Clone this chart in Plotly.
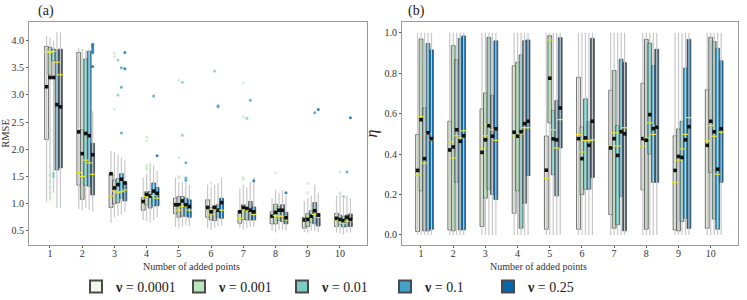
import plotly.graph_objects as go

# ---------------- data ----------------
categories = [1, 2, 3, 4, 5, 6, 7, 8, 9, 10]
nu_labels = ["0.0001", "0.001", "0.01", "0.1", "0.25"]
colors = ["#f0f9e8", "#bae4bc", "#7bccc4", "#43a2ca", "#0868ac"]

# RMSE panel (a): one list per nu, values per category
rmse_q3_nu1 = [3.89, 3.78, 1.55, 1.11, 1.10, 1.07, 0.87, 0.85, 0.75, 0.82]
rmse_q3_nu2 = [3.87, 2.36, 1.43, 1.22, 1.13, 0.93, 0.98, 0.99, 0.82, 0.79]
rmse_q3_nu3 = [3.84, 3.66, 1.46, 1.22, 1.13, 0.96, 0.93, 0.95, 0.87, 0.76]
rmse_q3_nu4 = [3.82, 3.80, 1.55, 1.38, 1.10, 0.98, 1.04, 0.98, 1.02, 0.79]
rmse_q3_nu5 = [3.84, 2.11, 1.40, 1.30, 1.07, 1.10, 0.94, 0.84, 0.82, 0.81]

rmse_q1_nu1 = [2.18, 1.34, 0.93, 0.88, 0.82, 0.75, 0.64, 0.63, 0.55, 0.58]
rmse_q1_nu2 = [3.37, 1.08, 1.00, 0.98, 0.75, 0.70, 0.71, 0.63, 0.58, 0.61]
rmse_q1_nu3 = [3.63, 1.34, 1.02, 0.92, 0.77, 0.69, 0.70, 0.69, 0.65, 0.57]
rmse_q1_nu4 = [1.62, 1.32, 1.10, 0.96, 0.77, 0.75, 0.70, 0.67, 0.63, 0.58]
rmse_q1_nu5 = [1.66, 1.16, 1.05, 0.96, 0.75, 0.73, 0.70, 0.63, 0.59, 0.58]

rmse_med_nu1 = [3.80, 1.57, 1.14, 1.02, 0.97, 0.90, 0.73, 0.77, 0.70, 0.70]
rmse_med_nu2 = [3.78, 1.50, 1.23, 1.13, 0.88, 0.81, 0.90, 0.78, 0.70, 0.70]
rmse_med_nu3 = [3.80, 1.80, 1.20, 1.12, 0.95, 0.90, 0.88, 0.77, 0.77, 0.64]
rmse_med_nu4 = [3.60, 1.75, 1.22, 1.15, 0.95, 0.88, 0.88, 0.77, 0.80, 0.68]
rmse_med_nu5 = [3.37, 1.54, 1.25, 1.10, 0.88, 0.88, 0.80, 0.70, 0.75, 0.68]

rmse_mean_nu1 = [3.15, 2.32, 1.55, 1.04, 0.98, 0.93, 0.85, 0.77, 0.70, 0.73]
rmse_mean_nu2 = [3.32, 1.92, 1.29, 1.17, 0.98, 0.85, 0.93, 0.84, 0.71, 0.71]
rmse_mean_nu3 = [3.32, 2.29, 1.35, 1.14, 1.05, 0.93, 0.91, 0.88, 0.77, 0.69]
rmse_mean_nu4 = [2.82, 2.25, 1.45, 1.23, 0.98, 0.88, 0.88, 0.88, 0.87, 0.75]
rmse_mean_nu5 = [2.78, 1.90, 1.38, 1.19, 0.95, 1.02, 0.85, 0.74, 0.79, 0.71]

rmse_lo_nu1 = [1.03, 0.90, 0.65, 0.70, 0.57, 0.55, 0.55, 0.50, 0.48, 0.47]
rmse_lo_nu2 = [1.08, 0.88, 0.75, 0.68, 0.55, 0.52, 0.52, 0.47, 0.47, 0.45]
rmse_lo_nu3 = [1.20, 0.92, 0.78, 0.65, 0.58, 0.55, 0.55, 0.52, 0.50, 0.43]
rmse_lo_nu4 = [0.92, 0.88, 0.80, 0.70, 0.60, 0.58, 0.57, 0.52, 0.50, 0.47]
rmse_lo_nu5 = [0.92, 0.85, 0.85, 0.75, 0.58, 0.60, 0.58, 0.50, 0.48, 0.47]

rmse_hi_nu1 = [4.08, 3.86, 1.97, 1.48, 1.48, 1.35, 1.28, 1.10, 1.05, 1.15]
rmse_hi_nu2 = [4.05, 3.85, 1.95, 1.55, 1.40, 1.30, 1.35, 1.25, 1.10, 1.20]
rmse_hi_nu3 = [4.00, 3.82, 1.90, 1.75, 1.40, 1.35, 1.30, 1.20, 1.15, 1.10]
rmse_hi_nu4 = [4.15, 3.85, 1.85, 1.70, 1.45, 1.38, 1.40, 1.25, 1.35, 1.15]
rmse_hi_nu5 = [4.15, 2.70, 1.80, 1.60, 1.35, 1.48, 1.48, 1.15, 1.20, 1.10]

# outliers: (category, value) pairs per nu
rmse_out_cat_nu1 = [10]
rmse_out_val_nu1 = [1.28]
rmse_out_cat_nu2 = [1, 1, 1, 1, 1, 1, 1, 1, 1, 3, 3, 3, 4, 4, 4, 4, 4, 5, 5, 5, 5, 6, 7, 7, 7, 7, 8, 9, 9, 10, 10]
rmse_out_val_nu2 = [2.20, 2.35, 1.68, 1.55, 1.52, 1.40, 1.30, 1.20, 1.08, 3.77, 3.70, 2.73,
                    2.15, 2.22, 1.70, 1.66, 1.63, 3.27, 1.50, 1.47, 1.85, 1.38,
                    3.22, 1.48, 1.45, 2.60, 1.57, 1.37, 1.20, 1.58, 1.20]
rmse_out_cat_nu3 = [1, 1, 3, 3, 5, 5, 6, 7, 10]
rmse_out_val_nu3 = [1.55, 1.50, 3.64, 3.00, 3.23, 2.26, 3.44, 2.57, 1.13]
rmse_out_cat_nu4 = [3, 3, 3, 4, 5, 5, 5, 6, 6, 7, 9, 10]
rmse_out_val_nu4 = [3.50, 3.14, 2.30, 2.98, 1.75, 1.47, 1.43, 2.80, 2.78, 2.90, 2.67, 1.58]
rmse_out_cat_nu5 = [2, 2, 2, 2, 2, 2, 3, 3, 4, 7, 8, 9, 10]
rmse_out_val_nu5 = [3.93, 3.90, 3.86, 3.82, 3.78, 3.52, 3.78, 3.48, 1.88, 1.42, 1.20, 2.73, 2.58]

# eta panel (b)
eta_q3_nu1 = [0.497, 0.562, 0.623, 0.836, 0.489, 0.780, 0.715, 0.750, 0.490, 0.718]
eta_q3_nu2 = [0.969, 0.936, 0.702, 0.854, 0.985, 0.534, 0.813, 0.967, 0.524, 0.977]
eta_q3_nu3 = [0.628, 0.866, 0.977, 0.890, 0.616, 0.673, 0.541, 0.948, 0.562, 0.956]
eta_q3_nu4 = [0.947, 0.972, 0.690, 0.960, 0.664, 0.560, 0.869, 0.838, 0.825, 0.923]
eta_q3_nu5 = [0.915, 0.984, 0.960, 0.964, 0.975, 0.972, 0.852, 0.918, 0.967, 0.861]

eta_q1_nu1 = [0.017, 0.025, 0.042, 0.107, 0.028, 0.028, 0.100, 0.223, 0.025, 0.033]
eta_q1_nu2 = [0.218, 0.020, 0.182, 0.218, 0.554, 0.200, 0.033, 0.028, 0.020, 0.309]
eta_q1_nu3 = [0.020, 0.260, 0.226, 0.033, 0.297, 0.226, 0.050, 0.400, 0.066, 0.078]
eta_q1_nu4 = [0.020, 0.025, 0.200, 0.157, 0.193, 0.226, 0.190, 0.260, 0.083, 0.028]
eta_q1_nu5 = [0.028, 0.025, 0.175, 0.293, 0.430, 0.284, 0.020, 0.260, 0.032, 0.260]

eta_med_nu1 = [0.297, 0.460, 0.425, 0.490, 0.280, 0.496, 0.440, 0.440, 0.260, 0.466]
eta_med_nu2 = [0.585, 0.380, 0.490, 0.485, 0.964, 0.410, 0.505, 0.480, 0.370, 0.540]
eta_med_nu3 = [0.355, 0.490, 0.545, 0.500, 0.520, 0.466, 0.440, 0.554, 0.425, 0.488]
eta_med_nu4 = [0.500, 0.480, 0.520, 0.530, 0.430, 0.466, 0.505, 0.497, 0.497, 0.300]
eta_med_nu5 = [0.470, 0.515, 0.468, 0.530, 0.570, 0.470, 0.530, 0.540, 0.580, 0.508]

eta_mean_nu1 = [0.319, 0.420, 0.408, 0.508, 0.320, 0.476, 0.430, 0.476, 0.319, 0.443]
eta_mean_nu2 = [0.570, 0.435, 0.470, 0.488, 0.775, 0.377, 0.476, 0.468, 0.388, 0.562]
eta_mean_nu3 = [0.377, 0.520, 0.540, 0.510, 0.475, 0.480, 0.393, 0.595, 0.383, 0.510]
eta_mean_nu4 = [0.505, 0.463, 0.488, 0.550, 0.470, 0.443, 0.510, 0.526, 0.470, 0.325]
eta_mean_nu5 = [0.476, 0.490, 0.525, 0.562, 0.628, 0.562, 0.500, 0.533, 0.535, 0.525]

eta_lo_nu1 = [0.0, 0.0, 0.0, 0.0, 0.0, 0.0, 0.0, 0.0, 0.0, 0.0]
eta_lo_nu2 = [0.0, 0.0, 0.0, 0.0, 0.0, 0.0, 0.0, 0.0, 0.0, 0.0]
eta_lo_nu3 = [0.0, 0.0, 0.0, 0.0, 0.0, 0.0, 0.0, 0.0, 0.0, 0.0]
eta_lo_nu4 = [0.0, 0.0, 0.0, 0.0, 0.0, 0.0, 0.0, 0.0, 0.0, 0.0]
eta_lo_nu5 = [0.0, 0.0, 0.0, 0.0, 0.0, 0.0, 0.0, 0.0, 0.0, 0.0]

eta_hi_nu1 = [1.0, 1.0, 1.0, 1.0, 1.0, 1.0, 1.0, 1.0, 1.0, 1.0]
eta_hi_nu2 = [1.0, 1.0, 1.0, 1.0, 1.0, 1.0, 1.0, 1.0, 1.0, 1.0]
eta_hi_nu3 = [1.0, 1.0, 1.0, 1.0, 1.0, 1.0, 1.0, 1.0, 1.0, 1.0]
eta_hi_nu4 = [1.0, 1.0, 1.0, 1.0, 1.0, 1.0, 1.0, 1.0, 1.0, 1.0]
eta_hi_nu5 = [1.0, 1.0, 1.0, 1.0, 1.0, 1.0, 1.0, 1.0, 1.0, 1.0]

rmse_ticks = [0.5, 1.0, 1.5, 2.0, 2.5, 3.0, 3.5, 4.0]
eta_ticks = [0.0, 0.2, 0.4, 0.6, 0.8, 1.0]

# ---------------- build ----------------
rmse = dict(
    q1=[rmse_q1_nu1, rmse_q1_nu2, rmse_q1_nu3, rmse_q1_nu4, rmse_q1_nu5],
    q3=[rmse_q3_nu1, rmse_q3_nu2, rmse_q3_nu3, rmse_q3_nu4, rmse_q3_nu5],
    med=[rmse_med_nu1, rmse_med_nu2, rmse_med_nu3, rmse_med_nu4, rmse_med_nu5],
    mean=[rmse_mean_nu1, rmse_mean_nu2, rmse_mean_nu3, rmse_mean_nu4, rmse_mean_nu5],
    lo=[rmse_lo_nu1, rmse_lo_nu2, rmse_lo_nu3, rmse_lo_nu4, rmse_lo_nu5],
    hi=[rmse_hi_nu1, rmse_hi_nu2, rmse_hi_nu3, rmse_hi_nu4, rmse_hi_nu5],
    oc=[rmse_out_cat_nu1, rmse_out_cat_nu2, rmse_out_cat_nu3, rmse_out_cat_nu4, rmse_out_cat_nu5],
    ov=[rmse_out_val_nu1, rmse_out_val_nu2, rmse_out_val_nu3, rmse_out_val_nu4, rmse_out_val_nu5],
)
eta = dict(
    q1=[eta_q1_nu1, eta_q1_nu2, eta_q1_nu3, eta_q1_nu4, eta_q1_nu5],
    q3=[eta_q3_nu1, eta_q3_nu2, eta_q3_nu3, eta_q3_nu4, eta_q3_nu5],
    med=[eta_med_nu1, eta_med_nu2, eta_med_nu3, eta_med_nu4, eta_med_nu5],
    mean=[eta_mean_nu1, eta_mean_nu2, eta_mean_nu3, eta_mean_nu4, eta_mean_nu5],
    lo=[eta_lo_nu1, eta_lo_nu2, eta_lo_nu3, eta_lo_nu4, eta_lo_nu5],
    hi=[eta_hi_nu1, eta_hi_nu2, eta_hi_nu3, eta_hi_nu4, eta_hi_nu5],
    oc=[[], [], [], [], []],
    ov=[[], [], [], [], []],
)

SERIF = "Liberation Serif, Times New Roman, serif"
GROUP_SHIFT = 0.11
STEP = 0.108
BOX_W = 0.118

FW, FH = 747, 300


def px(x):
    return x / FW


def py(y):
    return 1 - y / FH


def pos(s, c):
    return c + GROUP_SHIFT + (s - 2) * STEP


fig = go.Figure()

for panel, (d, xa, ya) in enumerate([(rmse, "x", "y"), (eta, "x2", "y2")]):
    # whiskers (behind boxes)
    for s in range(5):
        wx, wy = [], []
        for i, c in enumerate(categories):
            wx += [pos(s, c), pos(s, c), None]
            wy += [d["lo"][s][i], d["hi"][s][i], None]
        fig.add_trace(go.Scatter(x=wx, y=wy, mode="lines", xaxis=xa, yaxis=ya,
                                 line=dict(color="#c8c8c8", width=1.2),
                                 showlegend=False, hoverinfo="skip"))
    # boxes
    for s in range(5):
        fig.add_trace(go.Box(
            x=[pos(s, c) for c in categories],
            q1=d["q1"][s], median=d["med"][s], q3=d["q3"][s],
            lowerfence=d["q1"][s], upperfence=d["q3"][s],
            width=BOX_W, whiskerwidth=0, boxpoints=False,
            fillcolor=colors[s], line=dict(color="#4a4a4a", width=0.8),
            name="<b>\u03bd</b> = " + nu_labels[s], legendgroup=nu_labels[s],
            showlegend=(panel == 0), xaxis=xa, yaxis=ya))
    # medians and means
    for s in range(5):
        xs = [pos(s, c) for c in categories]
        fig.add_trace(go.Scatter(x=xs, y=d["med"][s], mode="markers", xaxis=xa, yaxis=ya,
                                 marker=dict(symbol="line-ew", size=4,
                                             line=dict(color="#e8e830", width=1.2)),
                                 showlegend=False, hoverinfo="skip"))
        fig.add_trace(go.Scatter(x=xs, y=d["mean"][s], mode="markers", xaxis=xa, yaxis=ya,
                                 marker=dict(symbol="square", size=3.6, color="#111111"),
                                 showlegend=False, hoverinfo="skip"))
    # outliers
    for s in range(5):
        if d["oc"][s]:
            fig.add_trace(go.Scatter(x=[pos(s, c) for c in d["oc"][s]], y=d["ov"][s],
                                     mode="markers", xaxis=xa, yaxis=ya,
                                     marker=dict(symbol="circle", size=3, color=colors[s],
                                                 opacity=0.8 if s >= 2 else 0.6),
                                     showlegend=False, hoverinfo="skip"))

axis_common = dict(showgrid=False, zeroline=False, showline=True, mirror=True,
                   linecolor="#9a9a9a", linewidth=1, ticks="outside", ticklen=2,
                   tickcolor="#555", automargin=False,
                   tickfont=dict(family=SERIF, size=10, color="#333"))


def label(text, x, y, size, color="#333"):
    return dict(text=text, x=px(x), y=py(y), xref="paper", yref="paper",
                xanchor="center", yanchor="middle", showarrow=False,
                font=dict(family=SERIF, size=size, color=color))


fig.update_layout(
    width=FW, height=FH,
    margin=dict(l=0, r=0, t=0, b=0, autoexpand=False),
    paper_bgcolor="white", plot_bgcolor="white",
    boxmode="overlay",
    xaxis=dict(domain=[px(29), px(367)], range=[0.35, 10.84], tickvals=categories,
               ticklabelstandoff=-3, **axis_common),
    yaxis=dict(domain=[py(245), py(22)], range=[0.24, 4.34], tickvals=rmse_ticks,
               ticktext=["%.1f" % t for t in rmse_ticks],
               title=dict(text="RMSE", font=dict(family=SERIF, size=10.5, color="#333"), standoff=3),
               **axis_common),
    xaxis2=dict(domain=[px(402), px(738)], range=[0.41, 10.85], tickvals=categories,
                anchor="y2", ticklabelstandoff=-3, **axis_common),
    yaxis2=dict(domain=[py(245), py(22)], range=[-0.05, 1.053], tickvals=eta_ticks,
                ticktext=["%.1f" % t for t in eta_ticks], anchor="x2",
                title=dict(text="<i>\u03b7</i>", font=dict(family=SERIF, size=16, color="#222"), standoff=2),
                **axis_common),
    legend=dict(orientation="h", x=px(76), xanchor="left", y=py(287), yanchor="middle",
                font=dict(family=SERIF, size=14, color="#222"),
                entrywidth=58, entrywidthmode="pixels", itemsizing="constant",
                bgcolor="rgba(0,0,0,0)"),
    annotations=[
        label("(a)", 46, 11, 14, "#222"),
        label("(b)", 417, 11, 14, "#222"),
        label("Number of added points", 192, 266, 10),
        label("Number of added points", 538, 266, 10),
    ],
)

# remove the browser's default page margin so the figure sits at the window origin
fig.write_html("out.html", config={"displayModeBar": False},
               post_script="document.body.style.margin='0px';")
